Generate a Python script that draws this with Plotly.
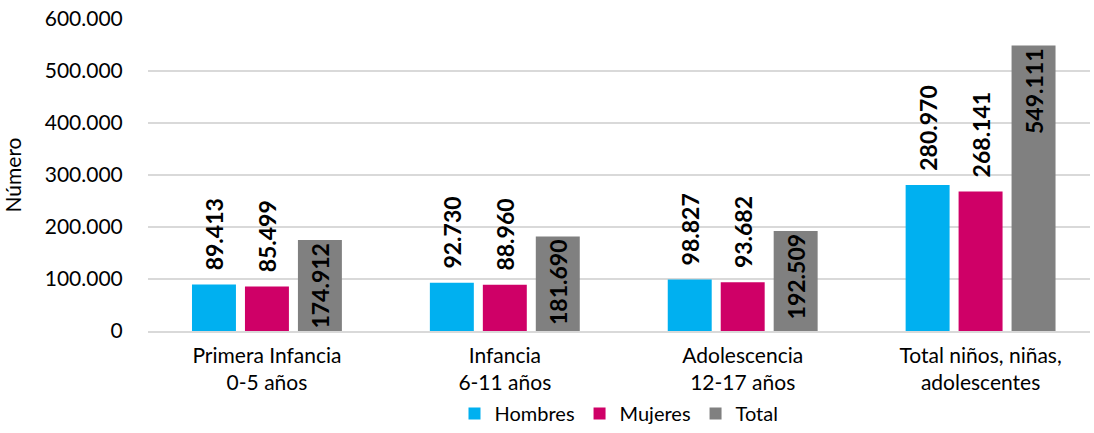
import plotly.graph_objects as go

categorias = [
    "Primera Infancia<br>0-5 años",
    "Infancia<br>6-11 años",
    "Adolescencia<br>12-17 años",
    "Total niños, niñas,<br>adolescentes",
]
hombres = [89413, 92730, 98827, 280970]
mujeres = [85499, 88960, 93682, 268141]
total = [174912, 181690, 192509, 549111]

fuente = "Lato, 'Open Sans', sans-serif"
etiqueta = dict(size=23, color="black", family=fuente, weight="bold")
esp = "\u00a0" * 2

fig = go.Figure()
fig.add_trace(go.Bar(
    x=categorias, y=hombres, name="Hombres",
    marker_color="#00B0F0",
    texttemplate=esp + "%{y:,}", textposition="outside", textangle=-90,
    textfont=etiqueta, cliponaxis=False,
))
fig.add_trace(go.Bar(
    x=categorias, y=mujeres, name="Mujeres",
    marker_color="#CF0067",
    texttemplate=esp + "%{y:,}", textposition="outside", textangle=-90,
    textfont=etiqueta, cliponaxis=False,
))
fig.add_trace(go.Bar(
    x=categorias, y=total, name="Total",
    marker_color="#808080",
    texttemplate="%{y:,}", textposition="inside", insidetextanchor="end",
    textangle=-90, textfont=etiqueta,
))

fig.update_layout(
    width=1094, height=433,
    margin=dict(l=148, r=4, t=19, b=102),
    plot_bgcolor="white", paper_bgcolor="white",
    separators=",.",
    barmode="group", bargap=0.332, bargroupgap=0.17,
    uniformtext=dict(mode=False),
    font=dict(family=fuente, size=20, color="black"),
    showlegend=True,
    legend=dict(orientation="h", x=0.5, xanchor="center",
                yref="container", y=0, yanchor="bottom",
                bgcolor="rgba(0,0,0,0)",
                font=dict(size=20), tracegroupgap=0, itemwidth=30),
    xaxis=dict(range=[-0.5, 3.46], tickfont=dict(size=21), showline=True,
               linecolor="#D9D9D9", linewidth=1.5, ticks="outside", ticklen=5,
               tickcolor="white", automargin=False),
    yaxis=dict(range=[0, 600000], dtick=100000, tickformat=",",
               gridcolor="#D9D9D9", gridwidth=1.5, zeroline=False,
               tickfont=dict(size=21), ticks="outside", ticklen=20,
               tickcolor="white", automargin=False,
               title=dict(text="Número", font=dict(size=21), standoff=24)),
)
fig.update_traces(marker_line_width=0, constraintext="none")

# quitar el margen del body para que la figura quede en la esquina
fig.write_html("out.html", config={"displayModeBar": False},
               post_script="document.body.style.margin='0';")
